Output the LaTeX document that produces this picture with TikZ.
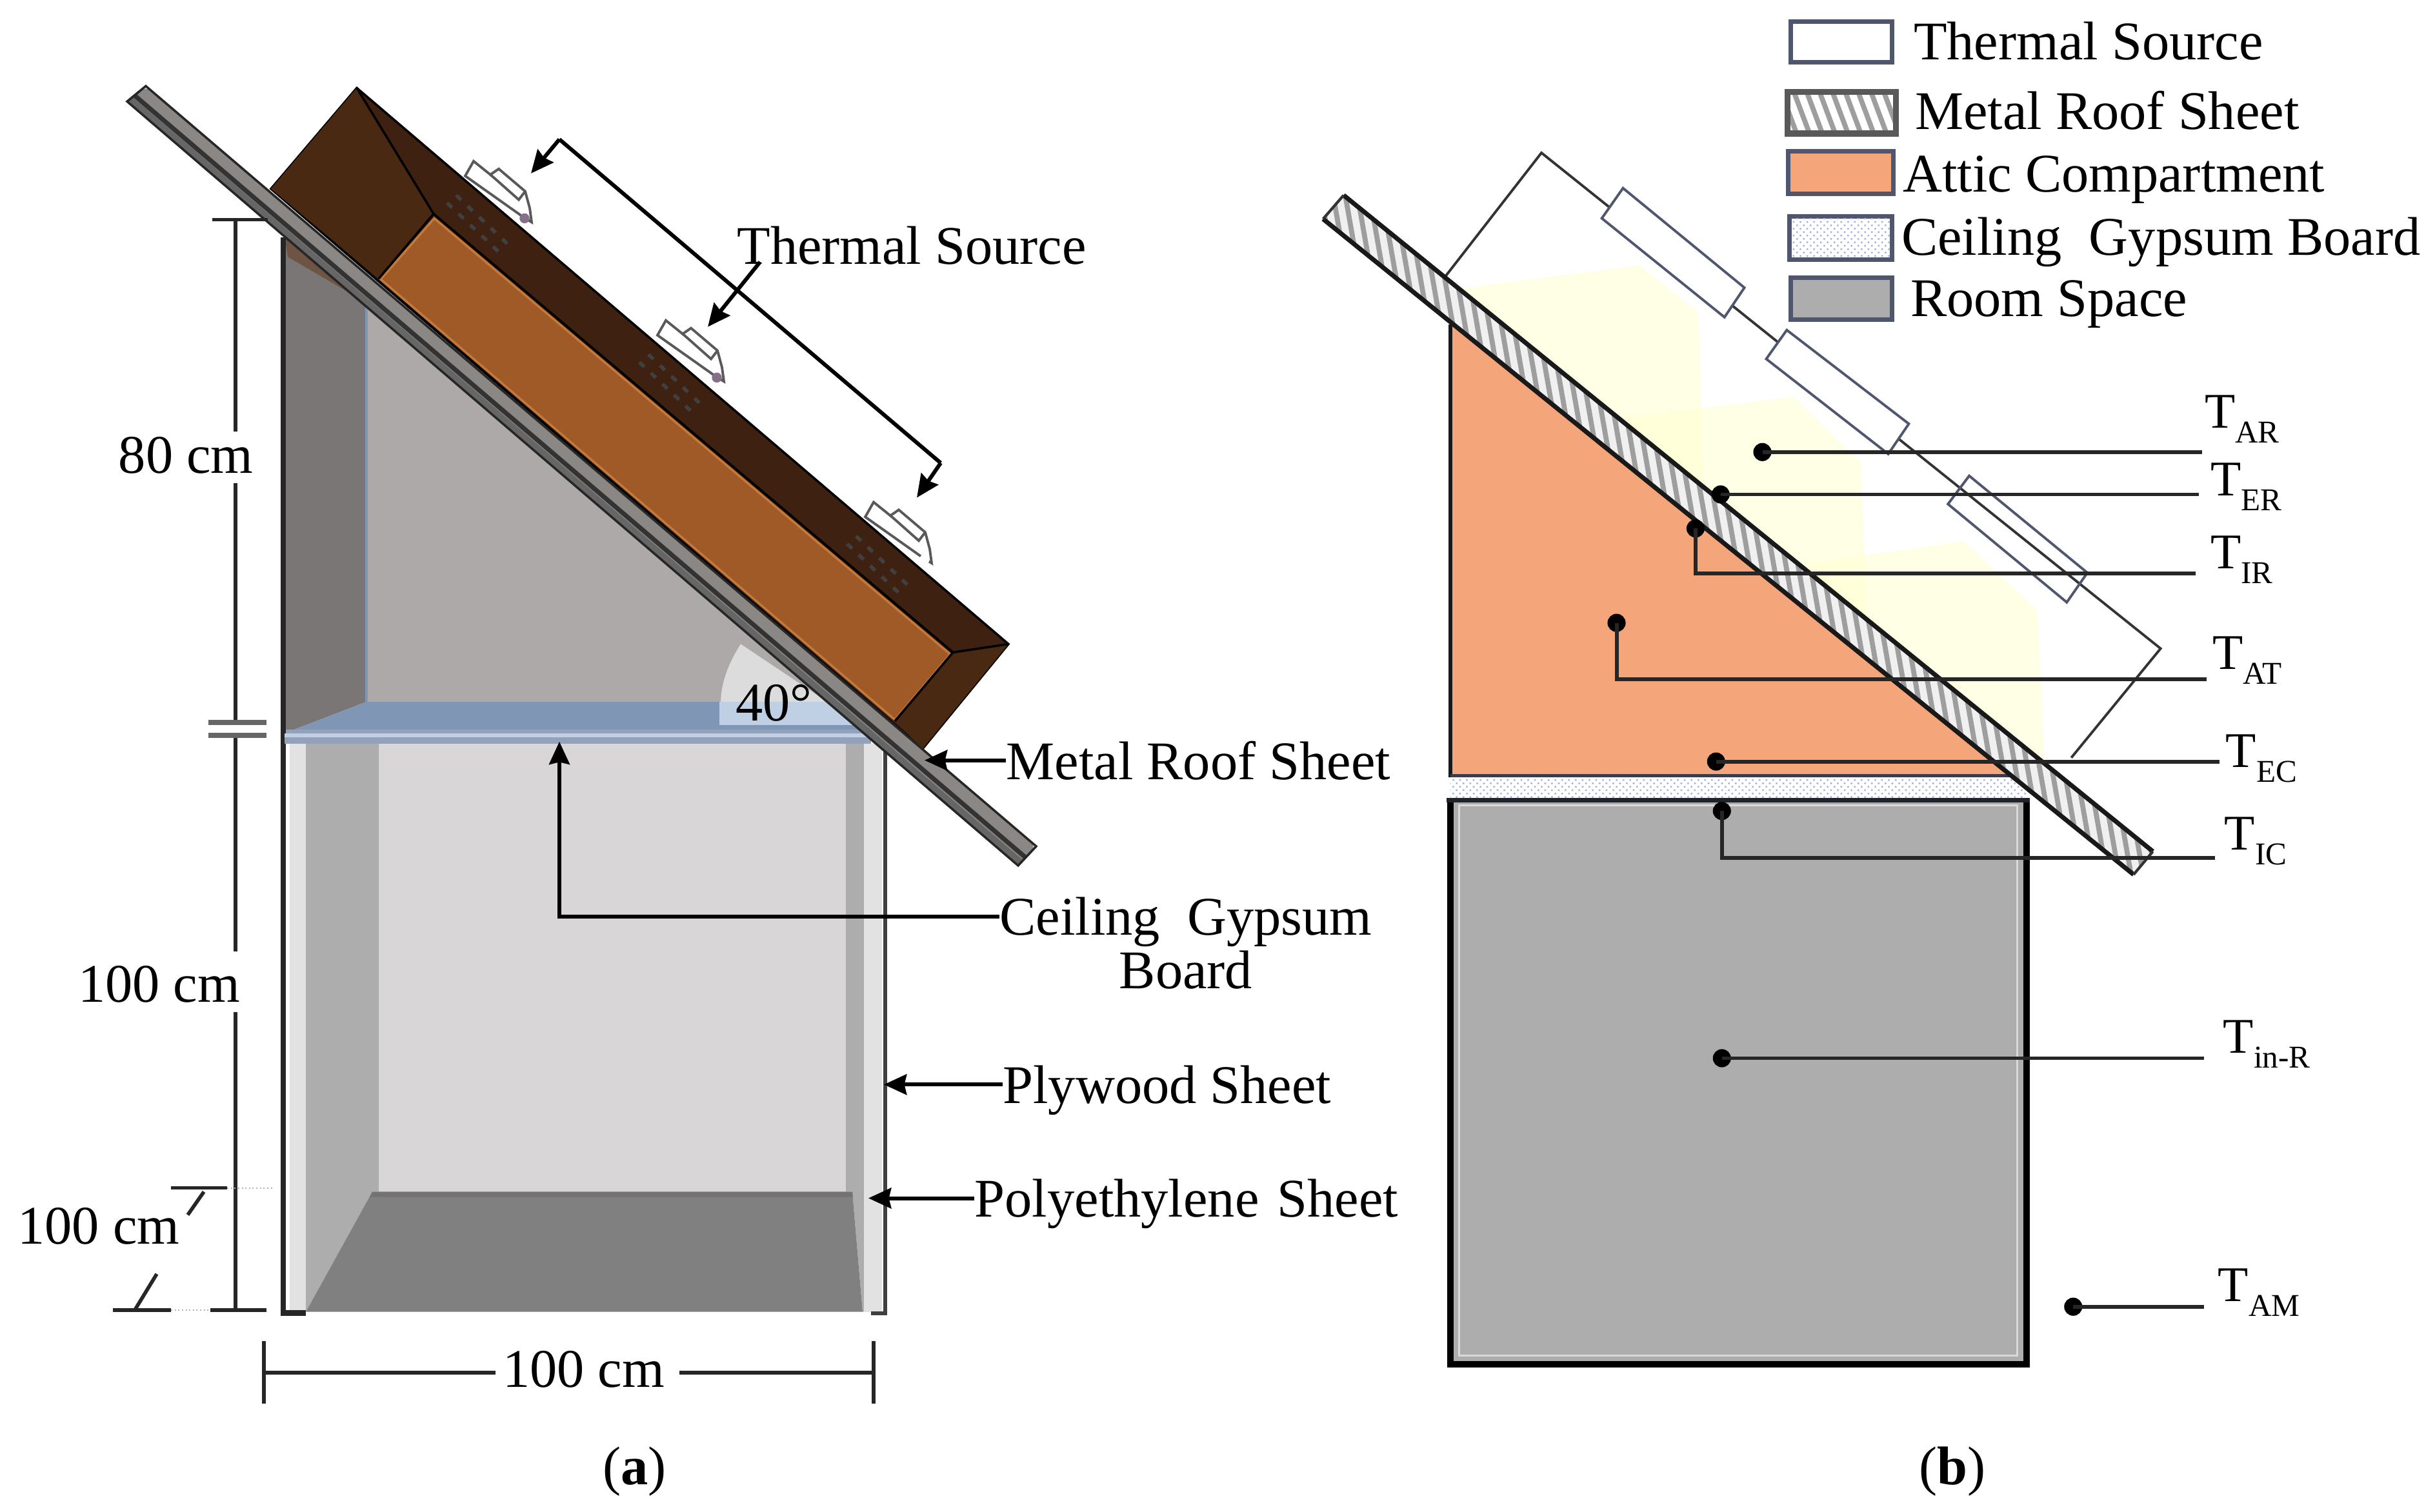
\documentclass[tikz,border=0pt]{standalone}
\usepackage{fontspec}
\setmainfont{Liberation Serif}
\usepackage{tikz}
\usetikzlibrary{arrows.meta, patterns}

\definecolor{woodface}{HTML}{A05A28}
\definecolor{woodedge}{HTML}{C4783A}
\definecolor{woodtop}{HTML}{3E2110}
\definecolor{woodend}{HTML}{4A2913}
\definecolor{sheetgrey}{HTML}{8B8784}
\definecolor{sheetdark}{HTML}{666666}
\definecolor{sidewall}{HTML}{7A7675}
\definecolor{backwall}{HTML}{ACA9A8}
\definecolor{ceilblue}{HTML}{7F97B5}
\definecolor{ceillight}{HTML}{BFD0E4}
\definecolor{ceilband}{HTML}{93A2B8}
\definecolor{anglepatch}{HTML}{DCDCDC}
\definecolor{roomback}{HTML}{D8D6D6}
\definecolor{roomside}{HTML}{ADADAD}
\definecolor{roomstrip}{HTML}{E2E2E2}
\definecolor{roomfloor}{HTML}{808080}
\definecolor{attic}{HTML}{F4A67A}
\definecolor{framenavy}{HTML}{50566E}
\definecolor{glow}{HTML}{FFFFC8}
\definecolor{dotblue}{HTML}{A8B4E0}
\definecolor{blobviolet}{HTML}{85708A}

\tikzset{
  label/.style={anchor=west, inner sep=0pt, text depth=0pt},
  templabel/.style={anchor=west, inner sep=0pt},
  dim/.style={line width=1.6pt, color=black!85},
  leader/.style={line width=1.7pt, -{Stealth[length=10pt,width=9pt,inset=1pt]}},
  probe/.style={line width=1.7pt, color=black!85},
  legendbox/.style={line width=2pt, draw=framenavy},
  outline/.style={line width=1.1pt, draw=black!80},
  hatch/.style={line width=2.2pt, color=black!38},
  edge/.style={line width=2pt, color=black!90}
}
\newcommand{\tlabel}[1]{\fontsize{22}{24}\selectfont T\raisebox{-0.3em}{\fontsize{14}{14}\selectfont #1}}

\begin{document}
\begin{tikzpicture}[x=0.01cm, y=-0.009946cm, font=\fontsize{24}{28}\selectfont]
    \useasboundingbox (0,0) rectangle (3774,2354);

    % panel a, room
    \fill[color=roomback] (587,1158) rectangle (1311,1856);
    \fill[color=roomside] (474,1158) -- (587,1158) -- (587,1856) -- (577,1856) -- (474,2043) -- cycle;
    \fill[color=roomside] (1311,1158) -- (1339,1158) -- (1339,2043) -- (1337,2043) -- (1321,1856) -- (1311,1856) -- cycle;
    \fill[color=roomstrip] (449,1158) rectangle (474,2043);
    \fill[color=roomstrip] (1339,1158) rectangle (1367,2043);
    \fill[color=roomfloor] (577,1856) -- (1321,1856) -- (1337,2043) -- (474,2043) -- cycle;
    \fill[color=black!55] (577,1856) -- (1321,1856) -- (1322,1864) -- (573,1864) -- cycle;
    \draw[line width=2.4pt, color=black!85] (439,1142) -- (439,2045) -- (474,2045);
    \draw[line width=1.8pt, color=black!75] (1372,1150) -- (1372,2045) -- (1350,2045);

    % panel a, attic
    \fill[color=sidewall] (441,368) -- (568,478) -- (568,1093) -- (441,1142) -- cycle;
    \fill[color=backwall] (568,478) -- (1282,1093) -- (568,1093) -- cycle;
    \fill[color=woodend!80] (441,368) -- (545,458) -- (446,400) -- cycle;
    \draw[line width=1pt, color=ceilblue] (568,478) -- (568,1093);
    \fill[color=ceilblue] (568,1093) -- (1282,1093) -- (1350,1150) -- (441,1142) -- cycle;
    \fill[color=anglepatch] (1117,1093) .. controls (1118,1060) and (1130,1032) .. (1148,1003) -- (1282,1093) -- cycle;
    \fill[color=ceillight] (1115,1093) -- (1282,1093) -- (1324,1129) -- (1115,1129) -- cycle;
    \fill[color=ceilband] (441,1136) rectangle (1350,1158);
    \fill[color=ceillight] (441,1142) rectangle (1344,1148);
    \draw[line width=2.4pt, color=black!85] (439,370) -- (439,1142);

    % panel a, wooden box
    \filldraw[fill=woodtop, draw=black, line width=1pt] (553,137) -- (1563,1003) -- (1430,1166) -- (420,294) -- cycle;
    \fill[color=woodend] (553,137) -- (672,333) -- (587,434) -- (420,294) -- cycle;
    \fill[color=woodend] (1477,1016) -- (1563,1003) -- (1430,1166) -- (1387,1123) -- cycle;
    \filldraw[fill=woodface, draw=woodedge, line width=1pt] (673,340) -- (1473,1019) -- (1387,1121) -- (590,435) -- cycle;
    \draw[line width=1pt, color=black] (553,137) -- (672,333) -- (1477,1016) -- (1563,1003);
    \draw[line width=1pt, color=black] (672,333) -- (587,434);
    \draw[line width=1pt, color=black] (1477,1016) -- (1387,1123);

    % thermal sources on the box
    \foreach \sx/\sy/\spot in {721/274/blobviolet, 1019/522/blobviolet, 1341/805/white} {
      \begin{scope}[shift={(\sx,\sy)}]
        \fill[color=white, draw=black!65, line width=1.1pt] (0,0) -- (13,-23) -- (39,-2) -- (52,-11) -- (93,24) -- (100,50) -- (103,72) -- (90,64) -- cycle;
        \draw[color=black!65, line width=1.1pt] (39,-2) -- (46,4) -- (83,37) -- (93,24);
        \fill[color=\spot] (92,66) circle (2.2pt);
        \draw[color=black!75, line width=1.6pt, dash pattern=on 3pt off 4pt] (-14,30) -- (72,112);
        \draw[color=black!75, line width=1.6pt, dash pattern=on 3pt off 4pt] (-28,42) -- (58,124);
      \end{scope}
    }

    % panel a, roof sheet
    \coordinate (SA) at (226,134);
    \coordinate (SB) at (1606,1318);
    \coordinate (SC) at (1578,1348);
    \coordinate (SD) at (197,158);
    \fill[color=sheetgrey, rounded corners=3pt] (SA) -- (SB) -- (SC) -- (SD) -- cycle;
    \fill[color=sheetdark] (205,151) -- (1586,1340) -- (1578,1348) -- (197,158) -- cycle;
    \draw[line width=2pt, color=black!80] (209,149) -- (1589,1335);
    \draw[line width=1pt, color=black!85] (SA) -- (SB) -- (SC) -- (SD) -- cycle;

    % panel a, dimensions
    \coordinate (TopTickL) at (329,342);
    \coordinate (TopTickR) at (415,342);
    \coordinate (TopDim) at (365,342);
    \coordinate (UpGapA) at (365,672);
    \coordinate (UpGapB) at (365,752);
    \coordinate (BarA) at (365,1125);
    \coordinate (BarB) at (365,1145);
    \coordinate (LowGapA) at (365,1482);
    \coordinate (LowGapB) at (365,1576);
    \coordinate (BotDim) at (365,2040);
    \coordinate (BotTickL) at (326,2040);
    \coordinate (BotTickR) at (413,2040);
    \coordinate (DepthA) at (265,1850);
    \coordinate (DepthB) at (352,1850);
    \coordinate (DepthC) at (316,1856);
    \coordinate (DepthD) at (291,1892);
    \coordinate (DepthE) at (175,2040);
    \coordinate (DepthF) at (265,2040);
    \coordinate (DepthG) at (243,1984);
    \coordinate (DepthH) at (209,2040);
    \coordinate (WidthL) at (409,2138);
    \coordinate (WidthR) at (1354,2138);
    \coordinate (WidthGapL) at (768,2138);
    \coordinate (WidthGapR) at (1053,2138);
    \coordinate (WidthLTop) at (409,2088);
    \coordinate (WidthLBot) at (409,2186);
    \coordinate (WidthRTop) at (1354,2088);
    \coordinate (WidthRBot) at (1354,2186);

    \draw[dim] (TopTickL) -- (TopTickR);
    \draw[dim] (TopDim) -- (UpGapA);
    \draw[dim] (UpGapB) -- (BarA);
    \draw[dim] (BarB) -- (LowGapA);
    \draw[dim] (LowGapB) -- (BotDim);
    \draw[dim] (BotTickL) -- (BotTickR);
    \draw[line width=2.2pt, color=black!60] (323,1125) -- (413,1125);
    \draw[line width=2.2pt, color=black!60] (323,1145) -- (413,1145);
    \draw[dim] (DepthA) -- (DepthB);
    \draw[dim] (DepthC) -- (DepthD);
    \draw[dim] (DepthE) -- (DepthF);
    \draw[dim] (DepthG) -- (DepthH);
    \draw[line width=0.6pt, color=black!30, densely dotted] (DepthB) -- (423,1850);
    \draw[line width=0.6pt, color=black!30, densely dotted] (DepthF) -- (BotTickL);
    \draw[dim] (WidthL) -- (WidthGapL);
    \draw[dim] (WidthGapR) -- (WidthR);
    \draw[dim] (WidthLTop) -- (WidthLBot);
    \draw[dim] (WidthRTop) -- (WidthRBot);

    % panel a, leaders
    \coordinate (BraceA) at (867,217);
    \coordinate (BraceB) at (1458,721);
    \coordinate (BraceATip) at (823,270);
    \coordinate (BraceBTip) at (1421,775);
    \coordinate (SourceFoot) at (1178,408);
    \coordinate (SourceTip) at (1097,509);
    \coordinate (MetalTip) at (1433,1184);
    \coordinate (CeilTurn) at (867,1427);
    \coordinate (CeilTip) at (867,1155);
    \coordinate (PlyTip) at (1370,1689);
    \coordinate (PolyTip) at (1346,1866);

    \draw[leader] (BraceA) -- (BraceATip);
    \draw[leader] (BraceB) -- (BraceBTip);
    \draw[line width=1.7pt] (BraceA) -- (BraceB);
    \draw[leader] (SourceFoot) -- (SourceTip);

    % panel b and all labels use the slightly narrower unit
    \begin{scope}[x=0.009946cm]
    \node[label] (eighty) at (184,709) {80 cm};
    \node[label] (hundredup) at (121,1532) {100 cm};
    \node[label] (hundredlow) at (27,1909) {100 cm};
    \node[label] (hundredwide) at (782,2132) {100 cm};
    \node[label] (angle) at (1145,1094) {40°};

    \node[label] (sourcelabel) at (1147,382) {Thermal Source};
    \node[label] (metallabel) at (1566,1184) {Metal Roof Sheet};
    \node[label] (ceilinglabel) at (1556,1427) {Ceiling\ \ Gypsum};
    \node[label] (boardlabel) at (1742,1510) {Board};
    \node[label] (plylabel) at (1561,1689) {Plywood Sheet};
    \node[label] (polylabel) at (1517,1866) {Polyethylene\hspace{8pt}Sheet};
    \node (captiona) at (988,2292) {(\textbf{a})};

    \draw[leader] (metallabel.west) -- (MetalTip);
    \draw[leader] (ceilinglabel.west) -- (CeilTurn) -- (CeilTip);
    \draw[leader] (plylabel.west) -- (PlyTip);
    \draw[leader] (polylabel.west) -- (PolyTip);

    % panel b, warm patches behind the roof
    \fill[color=glow, opacity=0.45] (2276,449) -- (2552,413) -- (2644,486) -- (2653,800) -- (2400,560) -- cycle;
    \fill[color=glow, opacity=0.45] (2529,650) -- (2793,618) -- (2897,721) -- (2908,1000) -- (2650,800) -- cycle;
    \fill[color=glow, opacity=0.45] (2805,879) -- (3057,843) -- (3172,950) -- (3184,1200) -- (3000,1100) -- cycle;

    % panel b, source box
    \draw[outline] (2250,431) -- (2400,238) -- (3364,1010) -- (3225,1180);
    \filldraw[fill=white, line width=1.1pt, draw=framenavy] (2527,293) -- (2716,448) -- (2685,494) -- (2494,340) -- cycle;
    \filldraw[fill=white, line width=1.1pt, draw=framenavy] (2782,514) -- (2972,660) -- (2940,707) -- (2750,559) -- cycle;
    \draw[line width=1.1pt, draw=framenavy] (3066,741) -- (3250,892) -- (3218,938) -- (3033,785) -- cycle;

    % panel b, attic, ceiling, room
    \fill[color=attic] (2258,505) -- (3131,1210) -- (2258,1210) -- cycle;
    \draw[line width=1.6pt, color=black!90] (2258,505) -- (2258,1210);
    \fill[color=white] (2258,1210) rectangle (3155,1246);
    \fill[pattern=crosshatch dots, pattern color=dotblue] (2258,1212) rectangle (3155,1244);
    \draw[line width=1.6pt, color=framenavy!70!black] (2258,1208) -- (3131,1208);
    \fill[color=roomside] (2258,1246) rectangle (3155,2125);
    \draw[line width=1pt, color=black!15] (2272,1254) rectangle (3141,2111);
    \draw[line width=2.8pt, color=black] (2258,1246) -- (2258,2125) -- (3155,2125) -- (3155,1246);
    \draw[line width=1.8pt, color=framenavy!40!black] (2252,1246) -- (3160,1246);

    % panel b, roof sheet
    \coordinate (RA) at (2092,304);
    \coordinate (RB) at (3352,1326);
    \coordinate (RC) at (3322,1362);
    \coordinate (RD) at (2060,341);
    \begin{scope}
      \clip (RA) -- (RB) -- (RC) -- (RD) -- cycle;
      \fill[color=black!6] (2040,280) rectangle (3380,1380);
      \foreach \h in {2050,2072,...,3360} {
        \draw[hatch] ({\h},{304+(\h-2092)*0.811-5}) -- ({\h+14},{304+(\h-2092)*0.811+75});
      }
    \end{scope}
    \draw[edge] (RA) -- (RB);
    \draw[edge] (RD) -- (RC);
    \draw[line width=1.2pt, color=black!80] (RA) -- (RD);
    \draw[line width=1.2pt, color=black!80] (RB) -- (RC);

    % panel b, temperature points
    \coordinate (AR) at (2744,704);
    \coordinate (ER) at (2679,770);
    \coordinate (IR) at (2640,823);
    \coordinate (AT) at (2517,970);
    \coordinate (EC) at (2672,1186);
    \coordinate (IC) at (2681,1263);
    \coordinate (INR) at (2681,1648);
    \coordinate (AM) at (3228,2035);

    \coordinate (ARend) at (3429,704);
    \coordinate (ERend) at (3424,770);
    \coordinate (IRturn) at (2640,893);
    \coordinate (IRend) at (3419,893);
    \coordinate (ATturn) at (2517,1058);
    \coordinate (ATend) at (3436,1058);
    \coordinate (ECend) at (3456,1186);
    \coordinate (ICturn) at (2681,1336);
    \coordinate (ICend) at (3449,1336);
    \coordinate (INRend) at (3432,1648);
    \coordinate (AMend) at (3432,2035);

    \fill[color=black] (AR) circle (4pt);
    \fill[color=black] (ER) circle (4pt);
    \fill[color=black] (IR) circle (4pt);
    \fill[color=black] (AT) circle (4pt);
    \fill[color=black] (EC) circle (4pt);
    \fill[color=black] (IC) circle (4pt);
    \fill[color=black] (INR) circle (4pt);
    \fill[color=black] (AM) circle (4pt);

    \draw[probe] (AR) -- (ARend);
    \draw[probe] (ER) -- (ERend);
    \draw[probe] (IR) -- (IRturn) -- (IRend);
    \draw[probe] (AT) -- (ATturn) -- (ATend);
    \draw[probe] (EC) -- (ECend);
    \draw[probe] (IC) -- (ICturn) -- (ICend);
    \draw[probe] (INR) -- (INRend);
    \draw[probe] (AM) -- (AMend);

    \node[templabel] (tar) at (3432,653) {\tlabel{AR}};
    \node[templabel] (ter) at (3441,758) {\tlabel{ER}};
    \node[templabel] (tir) at (3441,872) {\tlabel{IR}};
    \node[templabel] (tat) at (3444,1028) {\tlabel{AT}};
    \node[templabel] (tec) at (3465,1181) {\tlabel{EC}};
    \node[templabel] (tic) at (3463,1310) {\tlabel{IC}};
    \node[templabel] (tinr) at (3461,1626) {\tlabel{in-R}};
    \node[templabel] (tam) at (3453,2013) {\tlabel{AM}};

    % legend
    \draw[legendbox, fill=white] (2788,34) rectangle (2946,97);
    \begin{scope}
      \clip (2783,143) rectangle (2952,208);
      \foreach \h in {2770,2790,...,2950} {
        \draw[hatch] (\h,135) -- ({\h+30},215);
      }
    \end{scope}
    \draw[line width=2.6pt, draw=black!65] (2783,143) rectangle (2952,208);
    \draw[legendbox, fill=attic] (2784,236) rectangle (2948,302);
    \filldraw[legendbox, fill=white] (2786,337) rectangle (2946,404);
    \fill[pattern=crosshatch dots, pattern color=dotblue] (2789,340) rectangle (2943,401);
    \draw[legendbox, fill=roomside] (2788,432) rectangle (2946,498);

    \node[label] (legsource) at (2979,63) {Thermal Source};
    \node[label] (legmetal) at (2981,172) {Metal Roof Sheet};
    \node[label] (legattic) at (2962,271) {Attic Compartment};
    \node[label] (leggypsum) at (2960,368) {Ceiling\ \ Gypsum Board};
    \node[label] (legroom) at (2974,465) {Room Space};

    \node (captionb) at (3040,2292) {(\textbf{b})};
    \end{scope}
\end{tikzpicture}
\end{document}
